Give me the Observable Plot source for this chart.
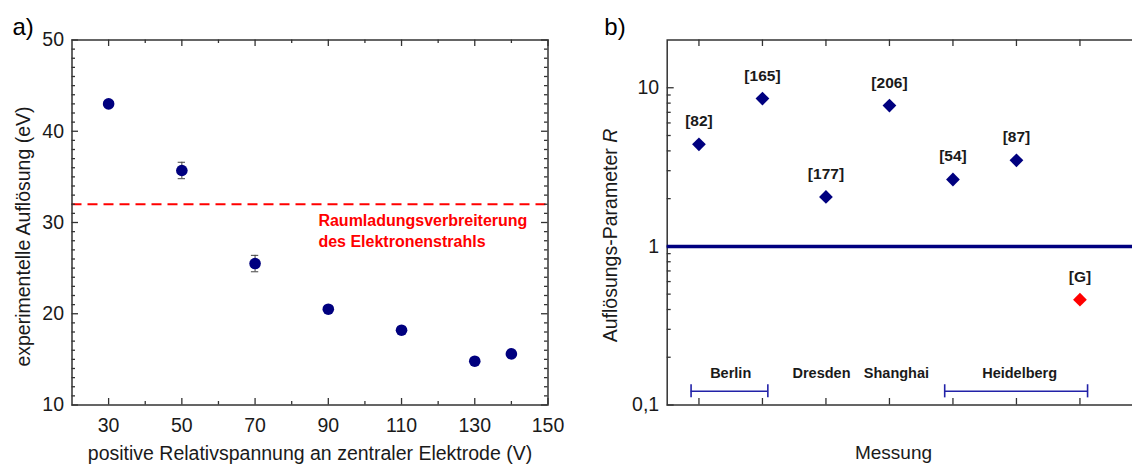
<!DOCTYPE html>
<html><head><meta charset="utf-8">
<script src="https://cdn.jsdelivr.net/npm/d3@7"></script>
<script src="https://cdn.jsdelivr.net/npm/@observablehq/plot@0.6"></script>
<style>
body{margin:0;background:#fff;overflow:hidden}
#wrap{position:relative;width:1132px;height:464px;overflow:hidden;background:#fff}
#pa,#pb{position:absolute;top:0;width:590px;height:464px}
#pa{left:0}
#pb{left:590px}
#wrap svg{max-width:none !important}
</style></head><body><div id="wrap"><div id="pa"></div><div id="pb"></div></div>
<script>
// ---------- panel a data ----------
const voltage = [30, 50, 70, 90, 110, 130, 140];
const resolution = [43.0, 35.7, 25.5, 20.5, 18.2, 14.8, 15.6];
const resolutionErr = [0.3, 0.9, 0.9, 0.3, 0.3, 0.3, 0.3];
const spaceChargeLimit = 32;
const annotationText = "Raumladungsverbreiterung\ndes Elektronenstrahls";
const annotationX = 87.3;
const annotationY = 29.2;
const xTicksA = [30, 50, 70, 90, 110, 130, 150];
const xMinorA = [40, 60, 80, 100, 120, 140];
const yTicksA = [10, 20, 30, 40, 50];
const yMinorA = d3.range(11, 50).filter(d => d % 10 !== 0);

// ---------- panel b data ----------
const measurement = [1, 2, 3, 4, 5, 6, 7];
const refLabels = ["[82]", "[165]", "[177]", "[206]", "[54]", "[87]", "[G]"];
const Rvalues = [4.40, 8.55, 2.05, 7.72, 2.64, 3.49, 0.461];
const pointColors = ["#00007f", "#00007f", "#00007f", "#00007f", "#00007f", "#00007f", "#ff0000"];
const groupNames = ["Berlin", "Dresden", "Shanghai", "Heidelberg"];
const groupPos = [1.5, 2.93, 4.11, 6.05];
const groupLabelLevel = 0.159;
const bracketStart = [0.876, 4.87];
const bracketEnd = [2.085, 7.12];
const bracketLevel = 0.122;
const xTicksB = [1, 2, 3, 4, 5, 6, 7, 8];
const yTicksB = [0.1, 1, 10];
const yTickLabelsB = ["0,1", "1", "10"];
const yMinorB = [0.2, 0.3, 0.4, 0.5, 0.6, 0.7, 0.8, 0.9, 2, 3, 4, 5, 6, 7, 8, 9];

const FONT = "'Liberation Sans', Arial, sans-serif";
const INK = "#1a1a1a";
const AX = "#333";
const FS = 19.5;

// ---------- panel a ----------
{
  const W = 590, H = 464, mL = 71.5, mR = 42.5, mT = 39.5, mB = 59.5;
  const iw = W - mL - mR, ih = H - mT - mB;
  const ptsA = voltage.map((v, i) => ({x: v, y: resolution[i], e: resolutionErr[i]}));
  const plotA = Plot.plot({
    width: W, height: H, marginLeft: mL, marginRight: mR, marginTop: mT, marginBottom: mB,
    style: {fontFamily: FONT, fontSize: FS + "px", color: INK, background: "transparent", overflow: "visible", maxWidth: "none"},
    x: {domain: [20, 150], axis: null},
    y: {domain: [10, 50], axis: null},
    marks: [
      Plot.ruleY([spaceChargeLimit], {stroke: "#ff0000", strokeWidth: 2, strokeDasharray: "10,6"}),
      // ticks (inward)
      Plot.ruleX(xTicksA, {x: d => d, insetTop: ih - 6.5, stroke: AX, strokeWidth: 1.3}),
      Plot.ruleX(xTicksA, {x: d => d, insetBottom: ih - 6.5, stroke: AX, strokeWidth: 1.3}),
      Plot.ruleX(xMinorA, {x: d => d, insetTop: ih - 3.5, stroke: AX, strokeWidth: 1.3}),
      Plot.ruleX(xMinorA, {x: d => d, insetBottom: ih - 3.5, stroke: AX, strokeWidth: 1.3}),
      Plot.ruleY(yTicksA, {y: d => d, insetRight: iw - 6.5, stroke: AX, strokeWidth: 1.3}),
      Plot.ruleY(yTicksA, {y: d => d, insetLeft: iw - 6.5, stroke: AX, strokeWidth: 1.3}),
      Plot.ruleY(yMinorA, {y: d => d, insetRight: iw - 3.5, stroke: AX, strokeWidth: 1.3}),
      Plot.ruleY(yMinorA, {y: d => d, insetLeft: iw - 3.5, stroke: AX, strokeWidth: 1.3}),
      Plot.frame({stroke: AX, strokeWidth: 1.5}),
      Plot.axisX(xTicksA, {tickSize: 0, tickPadding: 13.5, label: null, fill: INK}),
      Plot.axisY(yTicksA, {tickSize: 0, tickPadding: 8, label: null, fill: INK}),
      // error bars
      Plot.ruleX(ptsA, {x: "x", y1: d => d.y - d.e, y2: d => d.y + d.e, stroke: "#444", strokeWidth: 1}),
      Plot.ruleY(ptsA, {y: d => d.y + d.e, x1: d => d.x - 1, x2: d => d.x + 1, stroke: "#444", strokeWidth: 1}),
      Plot.ruleY(ptsA, {y: d => d.y - d.e, x1: d => d.x - 1, x2: d => d.x + 1, stroke: "#444", strokeWidth: 1}),
      Plot.dot(ptsA, {x: "x", y: "y", r: 5.8, fill: "#00007f", stroke: "none"}),
      Plot.text([annotationText], {x: annotationX, y: annotationY, textAnchor: "start", lineAnchor: "middle",
        fill: "#ff0000", fontWeight: "bold", fontSize: 16, lineHeight: 1.3}),
      Plot.text(["experimentelle Auflösung (eV)"], {frameAnchor: "left", dx: -48.5, dy: 14, rotate: -90,
        textAnchor: "middle", lineAnchor: "middle", fill: INK, fontSize: FS}),
      Plot.text(["positive Relativspannung an zentraler Elektrode (V)"], {frameAnchor: "bottom", dy: 48.5,
        textAnchor: "middle", lineAnchor: "middle", fill: INK, fontSize: FS}),
      Plot.text(["a)"], {frameAnchor: "top-left", dx: 12 - mL, dy: -13, textAnchor: "start", lineAnchor: "middle", fill: "#000", fontSize: 24})
    ]
  });
  document.getElementById("pa").append(plotA);
}

// ---------- panel b ----------
{
  const W = 590, H = 464, mL = 76.7, mR = 5.3, mT = 39.5, mB = 59.5;
  const iw = W - mL - mR, ih = H - mT - mB;
  const ptsB = measurement.map((m, i) => ({x: m, y: Rvalues[i], label: refLabels[i], color: pointColors[i]}));
  const groups = groupNames.map((g, i) => ({name: g, x: groupPos[i]}));
  const brackets = bracketStart.map((s, i) => ({x1: s, x2: bracketEnd[i]}));
  const bracketEnds = bracketStart.concat(bracketEnd);
  const BR = "#2222a8";
  const plotB = Plot.plot({
    width: W, height: H, marginLeft: mL, marginRight: mR, marginTop: mT, marginBottom: mB,
    style: {fontFamily: FONT, fontSize: FS + "px", color: INK, background: "transparent", overflow: "visible", maxWidth: "none"},
    x: {domain: [0.5, 8.5], axis: null},
    y: {type: "log", domain: [0.1, 20], axis: null},
    color: {type: "identity"},
    marks: [
      Plot.ruleX(xTicksB, {x: d => d, insetTop: ih - 6.5, stroke: AX, strokeWidth: 1.3}),
      Plot.ruleX(xTicksB, {x: d => d, insetBottom: ih - 6.5, stroke: AX, strokeWidth: 1.3}),
      Plot.ruleY(yTicksB, {y: d => d, insetRight: iw - 7, stroke: AX, strokeWidth: 1.3}),
      Plot.ruleY(yMinorB, {y: d => d, insetRight: iw - 4, stroke: AX, strokeWidth: 1.3}),
      Plot.frame({stroke: AX, strokeWidth: 1.5}),
      Plot.axisY(yTicksB, {tickSize: 0, tickPadding: 8, label: null, fill: INK,
        tickFormat: d => yTickLabelsB[yTicksB.indexOf(d)]}),
      Plot.ruleY([1], {stroke: "#00007f", strokeWidth: 3.5}),
      // brackets
      Plot.ruleY(brackets, {y: bracketLevel, x1: "x1", x2: "x2", stroke: BR, strokeWidth: 1.6}),
      Plot.ruleX(bracketEnds, {x: d => d, y1: bracketLevel / 1.1, y2: bracketLevel * 1.1, stroke: BR, strokeWidth: 1.6}),
      Plot.text(groups, {x: "x", y: groupLabelLevel, text: "name", fontWeight: "bold", fontSize: 14.5, fill: INK}),
      Plot.dot(ptsB, {x: "x", y: "y", symbol: "diamond2", r: 6.2, fill: "color", stroke: "none"}),
      Plot.text(ptsB, {x: "x", y: "y", text: "label", dy: -23, fontWeight: "bold", fontSize: 15.5, fill: INK}),
      Plot.text(["Messung"], {frameAnchor: "bottom", dx: 893 - 590 - (mL + iw / 2), dy: 47.5,
        textAnchor: "middle", lineAnchor: "middle", fill: INK, fontSize: 19}),
      Plot.text(["b)"], {frameAnchor: "top-left", dx: 13.8 - mL, dy: -13, textAnchor: "start", lineAnchor: "middle", fill: "#000", fontSize: 24})
    ]
  });
  // y-axis title with italic R
  const t = d3.select(plotB).append("text")
    .attr("transform", `translate(${mL - 55.7},${mT + ih / 2 + 13.5}) rotate(-90)`)
    .attr("text-anchor", "middle")
    .attr("dy", "0.32em")
    .attr("fill", INK)
    .attr("font-size", FS)
    .attr("font-family", FONT);
  t.append("tspan").text("Auflösungs-Parameter ");
  t.append("tspan").attr("font-style", "italic").text("R");
  document.getElementById("pb").append(plotB);
}
</script>
</body></html>
